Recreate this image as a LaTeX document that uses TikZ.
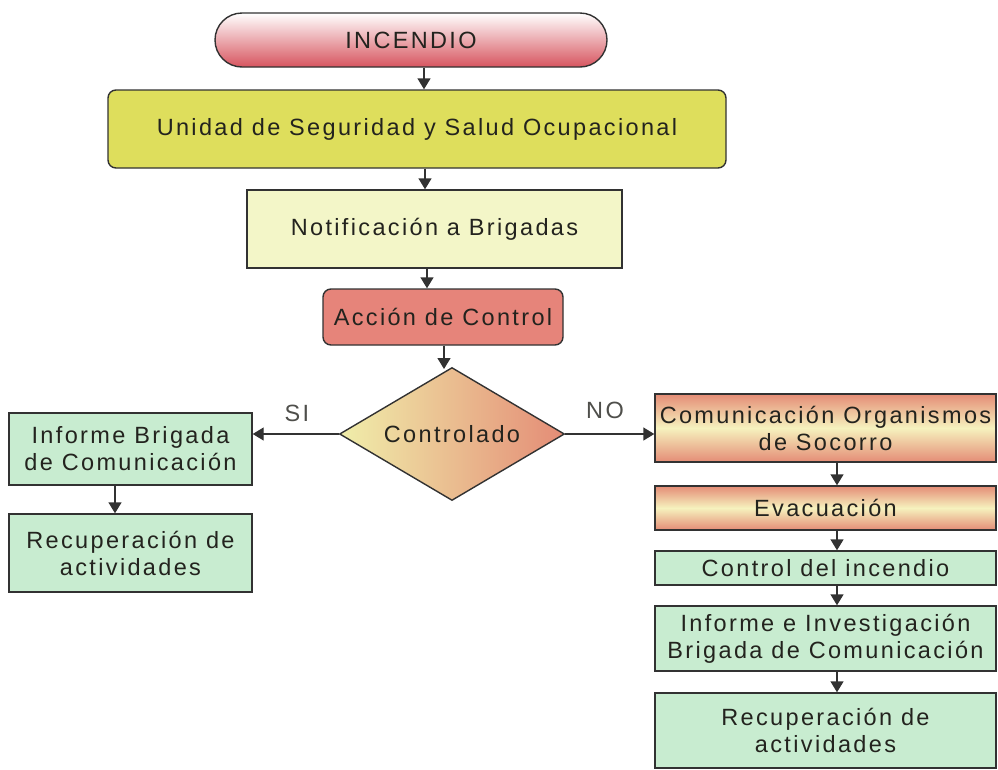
\documentclass[tikz,border=0pt]{standalone}
\usepackage{fontspec}
\setmainfont[LetterSpace=10]{Liberation Sans}
\usetikzlibrary{shapes.geometric,arrows.meta}
\definecolor{edge}{RGB}{50,50,50}
\definecolor{txt}{RGB}{35,35,30}
\definecolor{olive}{RGB}{222,222,92}
\definecolor{paleyel}{RGB}{243,246,200}
\definecolor{salmon}{RGB}{230,132,122}
\definecolor{grn}{RGB}{200,236,208}
\definecolor{gsal}{RGB}{228,140,118}
\definecolor{gmid}{RGB}{246,242,190}
\definecolor{dleft}{RGB}{240,238,170}
\definecolor{incred}{RGB}{215,85,95}
\tikzset{
  base/.style={draw=edge, line width=1.4pt, text=txt, align=center, inner sep=0pt,
    font=\fontsize{23.5}{27}\selectfont},
  greenbox/.style={base, fill=grn, minimum width=341pt},
  leftbox/.style={base, fill=grn, minimum width=243pt},
  gradbox/.style={base, top color=gsal, bottom color=gsal, middle color=gmid, minimum width=341pt},
  arr/.style={draw=edge, line width=1.4pt, -{Triangle[length=11pt,width=13pt]}},
  lbl/.style={text=txt!80, font=\fontsize{23.5}{27}\selectfont}
}
\begin{document}
\begin{tikzpicture}[x=1pt,y=-1pt]
\useasboundingbox (0,0) rectangle (998,769);
% main column
\node[base, minimum width=392pt, minimum height=54pt, rounded corners=27pt,
  top color=white, bottom color=incred] (inc) at (411,40) {INCENDIO};
\node[base, fill=olive, minimum width=618pt, minimum height=78pt, rounded corners=8pt]
  (uni) at (417,129) {Unidad de Seguridad y Salud Ocupacional};
\node[base, fill=paleyel, minimum width=375pt, minimum height=78pt]
  (noti) at (434.5,229) {Notificación a Brigadas};
\node[base, fill=salmon, minimum width=240pt, minimum height=56pt, rounded corners=8pt]
  (acc) at (443,317) {Acción de Control};
\node[base, shape=diamond, aspect=1.69, minimum width=225pt, minimum height=133pt,
  left color=dleft, right color=gsal] (dia) at (452,434) {Controlado};
% left branch
\node[leftbox, minimum height=72pt] (linf) at (130.5,449) {Informe Brigada\\de Comunicación};
\node[leftbox, minimum height=78pt] (lrec) at (130.5,553) {Recuperación de\\actividades};
% right branch
\node[gradbox, minimum height=68pt] (rcom) at (825.5,428) {Comunicación Organismos\\de Socorro};
\node[gradbox, minimum height=44pt] (revac) at (825.5,508) {Evacuación};
\node[greenbox, minimum height=34pt] (rctl) at (825.5,568) {Control del incendio};
\node[greenbox, minimum height=65pt] (rinf) at (825.5,638.5) {Informe e Investigación\\Brigada de Comunicación};
\node[greenbox, minimum height=75pt] (rrec) at (825.5,730.5) {Recuperación de\\actividades};
% labels
\node[lbl] (si) at (297,413) {SI};
\node[lbl] (no) at (605,410) {NO};
% connectors
\coordinate (a1) at (424,0);
\coordinate (a2) at (425,0);
\coordinate (a3) at (427,0);
\coordinate (a4) at (444,0);
\coordinate (dtop) at (444,369);
\coordinate (al) at (115,0);
\coordinate (ar) at (837,0);
\draw[arr] (inc.south -| a1) -- (uni.north -| a1);
\draw[arr] (uni.south -| a2) -- (noti.north -| a2);
\draw[arr] (noti.south -| a3) -- (acc.north -| a3);
\draw[arr] (acc.south -| a4) -- (dtop);
\draw[arr] (dia.west) -- (dia.west -| linf.east);
\draw[arr] (dia.east) -- (dia.east -| rcom.west);
\draw[arr] (linf.south -| al) -- (lrec.north -| al);
\draw[arr] (rcom.south -| ar) -- (revac.north -| ar);
\draw[arr] (revac.south -| ar) -- (rctl.north -| ar);
\draw[arr] (rctl.south -| ar) -- (rinf.north -| ar);
\draw[arr] (rinf.south -| ar) -- (rrec.north -| ar);
\end{tikzpicture}
\end{document}
